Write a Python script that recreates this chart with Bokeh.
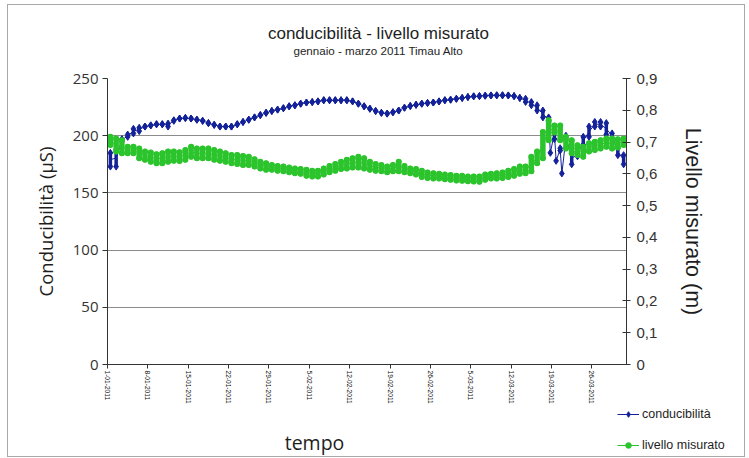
import pandas as pd
from bokeh.plotting import figure
from bokeh.layouts import column
from bokeh.models import (Range1d, LinearAxis, FixedTicker, Legend,
                          LegendItem, ColumnDataSource, Label)
from bokeh.embed import file_html
from bokeh.resources import INLINE

# ---------------- data ----------------
first_day = "2011-01-01"
n_days = 90

# conducibilità (µS): daily low / high readings
cond_lo = [173, 173, 195, 199, 202, 204, 208, 209, 210, 210,
           208, 213, 215, 215.5, 215, 214, 213, 211, 209.5, 208,
           208, 208, 210, 212, 214, 216, 218, 220, 221.6, 222.8,
           224, 225.7, 226.6, 228, 229, 229.4, 230, 231, 231, 231,
           231, 231, 230, 228, 225.7, 223.6, 221.6, 220, 219.3, 220.5,
           222, 224.5, 226, 227, 228, 228.6, 229, 230, 231, 231.5,
           232.3, 233, 233.8, 234.4, 234.6, 235, 235.2, 235.3, 235.3, 235.2,
           234.6, 233, 229.5, 226.6, 222, 216, 212, 197, 187, 196,
           175, 182, 192, 199, 208, 208, 201, 198, 183, 175]
cond_hi = [185, 188, 197, 201, 206, 207, 208, 209, 210, 210,
           210.6, 213.5, 215, 215.5, 215, 214, 213, 211, 209.5, 208,
           208, 208, 210, 212, 214, 216, 218, 220, 221.6, 222.8,
           224, 225.7, 226.6, 228, 229, 229.4, 230, 231, 231, 231,
           231, 231, 230, 228, 225.7, 223.6, 221.6, 220, 219.3, 220.5,
           222, 224.5, 226, 227, 228, 228.6, 229, 230, 231, 231.5,
           232.3, 233, 233.8, 234.4, 234.6, 235, 235.2, 235.3, 235.3, 235.2,
           234.6, 233, 232.3, 229.4, 226.6, 222, 216, 208, 189, 200,
           186, 184, 199, 208, 212, 212, 211, 202, 189, 183]
# isolated low conducibilità readings
cond_spike_time = ["2011-03-18 19:00", "2011-03-19 19:00", "2011-03-20 19:00"]
cond_spike_val = [185, 178, 167]

# livello misurato (m): daily low / high readings
liv_lo = [.691, .670, .665, .665, .665, .649, .644, .638, .633, .633,
          .638, .641, .640, .644, .654, .649, .649, .649, .644, .641,
          .638, .633, .631, .628, .628, .623, .617, .613, .613, .610,
          .608, .605, .602, .600, .594, .592, .592, .598, .605, .610,
          .615, .617, .620, .620, .617, .613, .610, .608, .605, .608,
          .608, .605, .602, .598, .590, .587, .585, .585, .583, .581,
          .579, .578, .577, .576, .575, .581, .585, .585, .587, .590,
          .594, .600, .602, .608, .633, .649, .706, .730, .706, .680,
          .665, .659, .654, .670, .675, .680, .685, .680, .683, .691]
liv_hi = [.717, .711, .706, .685, .685, .680, .670, .667, .662, .665,
          .670, .670, .668, .675, .685, .680, .680, .680, .675, .670,
          .665, .659, .659, .656, .654, .646, .638, .633, .628, .625,
          .623, .620, .617, .615, .613, .610, .610, .617, .625, .631,
          .638, .644, .649, .654, .649, .638, .631, .628, .623, .628,
          .638, .625, .617, .615, .610, .604, .602, .600, .598, .596,
          .594, .594, .592, .592, .592, .598, .600, .602, .604, .610,
          .615, .623, .623, .654, .670, .732, .769, .752, .752, .717,
          .706, .690, .685, .696, .701, .706, .711, .711, .709, .711]

tick_dates = ["2011-01-01", "2011-01-08", "2011-01-15", "2011-01-22",
              "2011-01-29", "2011-02-05", "2011-02-12", "2011-02-19",
              "2011-02-26", "2011-03-05", "2011-03-12", "2011-03-19",
              "2011-03-26"]
tick_labels = ["1-01-2011", "8-01-2011", "15-01-2011", "22-01-2011",
               "29-01-2011", "5-02-2011", "12-02-2011", "19-02-2011",
               "26-02-2011", "5-03-2011", "12-03-2011", "19-03-2011",
               "26-03-2011"]
cond_ticks = [0, 50, 100, 150, 200, 250]
liv_ticks = [0, 0.1, 0.2, 0.3, 0.4, 0.5, 0.6, 0.7, 0.8, 0.9]
liv_tick_labels = ["0", "0,1", "0,2", "0,3", "0,4", "0,5", "0,6", "0,7", "0,8", "0,9"]

title_text = "conducibilità - livello misurato"
subtitle_text = "gennaio - marzo 2011 Timau Alto"

# ---------------- sources ----------------
days = pd.date_range(first_day, periods=n_days, freq="D") + pd.Timedelta(hours=12)
cond_src = ColumnDataSource(dict(x=days, lo=cond_lo, hi=cond_hi))
liv_src = ColumnDataSource(dict(x=days, lo=liv_lo, hi=liv_hi))

cond_seq = pd.DataFrame(dict(x=list(days) + list(pd.to_datetime(cond_spike_time)),
                             y=[(a + b) / 2 for a, b in zip(cond_lo, cond_hi)] + cond_spike_val))
cond_seq = cond_seq.sort_values("x")
cond_line_src = ColumnDataSource(dict(x=cond_seq["x"], y=cond_seq["y"]))
spike_src = ColumnDataSource(dict(x=pd.to_datetime(cond_spike_time), y=cond_spike_val))
liv_line_src = ColumnDataSource(dict(x=days, y=[(a + b) / 2 for a, b in zip(liv_lo, liv_hi)]))

BLUE = "#14229a"
GREEN = "#2cc42c"
AX = "#333333"
TXT = "#1e1e1e"

W = 736
H_TOP = 63
H_MAIN = 338
H_BOT = 50


def blank_strip(h):
    f = figure(width=W, height=h, x_range=Range1d(0, W), y_range=Range1d(0, h),
               output_backend="svg", toolbar_location=None,
               x_axis_location=None, y_axis_location=None,
               min_border_left=0, min_border_right=0, min_border_top=0, min_border_bottom=0)
    f.frame_align = False
    f.outline_line_color = None
    f.grid.visible = False
    f.background_fill_color = "white"
    f.border_fill_color = "white"
    return f


# ---------------- top strip: titles ----------------
t = blank_strip(H_TOP)
t.add_layout(Label(x=370, y=35, text=title_text, text_align="center", text_baseline="middle",
                   text_font="Liberation Sans", text_font_size="17px", text_color=TXT))
t.add_layout(Label(x=370, y=18, text=subtitle_text, text_align="center", text_baseline="middle",
                   text_font="Liberation Sans", text_font_size="11.6px", text_color=TXT))

# ---------------- main plot ----------------
x_start = pd.Timestamp(first_day)
x_end = x_start + pd.Timedelta(days=n_days)

p = figure(width=W, height=H_MAIN, x_axis_type="datetime",
           x_range=Range1d(x_start, x_end), y_range=Range1d(0, 250),
           output_backend="svg", toolbar_location=None, title=None,
           min_border_left=99, min_border_right=118,
           min_border_top=10, min_border_bottom=40)
p.frame_align = False
p.extra_y_ranges = {"liv": Range1d(0, 0.9)}
p.outline_line_color = None
p.background_fill_color = "white"
p.border_fill_color = "white"

p.xgrid.visible = False
p.ygrid.ticker = FixedTicker(ticks=cond_ticks)
p.ygrid.grid_line_color = "#8c8c8c"
p.ygrid.grid_line_width = 1

tick_ms = [int(pd.Timestamp(d).value // 10**6) for d in tick_dates]
xa = p.xaxis[0]
xa.ticker = FixedTicker(ticks=tick_ms)
xa.major_label_overrides = {t_: l for t_, l in zip(tick_ms, tick_labels)}
xa.major_label_orientation = "vertical"
xa.major_label_text_font = "Liberation Sans"
xa.major_label_text_font_size = "6.6px"
xa.major_label_text_color = "#111111"
xa.major_label_standoff = 2
xa.major_tick_in = 0
xa.major_tick_out = 4
xa.minor_tick_out = 0
xa.minor_tick_in = 0
xa.axis_line_color = AX
xa.major_tick_line_color = AX

ya = p.yaxis[0]
ya.ticker = FixedTicker(ticks=cond_ticks)
ya.axis_label = "Conducibilità (µS)"
ya.axis_label_text_font = "Open Sans"
ya.axis_label_text_font_size = "18.5px"
ya.axis_label_text_font_style = "normal"
ya.axis_label_text_color = TXT
ya.axis_label_standoff = 12
ya.major_label_text_font = "Open Sans"
ya.major_label_text_font_size = "15px"
ya.major_label_text_color = "#333333"
ya.major_label_standoff = 4
ya.major_tick_in = 0
ya.major_tick_out = 5
ya.minor_tick_in = 0
ya.minor_tick_out = 0
ya.axis_line_color = AX
ya.major_tick_line_color = AX

ra = LinearAxis(y_range_name="liv", ticker=FixedTicker(ticks=liv_ticks))
ra.major_label_overrides = {t_: l for t_, l in zip(liv_ticks, liv_tick_labels)}
ra.axis_label = "Livello misurato (m)"
ra.axis_label_text_font = "Liberation Sans"
ra.axis_label_text_font_size = "21.5px"
ra.axis_label_text_font_style = "normal"
ra.axis_label_text_color = TXT
ra.axis_label_standoff = 21
ra.major_label_text_font = "Liberation Sans"
ra.major_label_text_font_size = "15px"
ra.major_label_text_color = "#333333"
ra.major_label_standoff = 6
ra.major_tick_in = 4
ra.major_tick_out = 4
ra.minor_tick_in = 0
ra.minor_tick_out = 0
ra.axis_line_color = AX
ra.major_tick_line_color = AX
p.add_layout(ra, "right")

# conducibilità series
p.line("x", "y", source=cond_line_src, line_color=BLUE, line_width=1)
p.segment(x0="x", y0="lo", x1="x", y1="hi", source=cond_src,
          line_color=BLUE, line_width=3.5)
p.scatter("x", "hi", source=cond_src, marker="diamond", size=7,
          fill_color=BLUE, line_color=BLUE)
p.scatter("x", "lo", source=cond_src, marker="diamond", size=7,
          fill_color=BLUE, line_color=BLUE)
p.scatter("x", "y", source=spike_src, marker="diamond", size=7,
          fill_color=BLUE, line_color=BLUE)

# livello series
p.line("x", "y", source=liv_line_src, line_color=GREEN, line_width=1,
       y_range_name="liv")
p.segment(x0="x", y0="lo", x1="x", y1="hi", source=liv_src,
          line_color=GREEN, line_width=5.5, line_cap="round", y_range_name="liv")
p.scatter("x", "hi", source=liv_src, marker="circle", size=6,
          fill_color=GREEN, line_color=None, y_range_name="liv")
p.scatter("x", "lo", source=liv_src, marker="circle", size=6,
          fill_color=GREEN, line_color=None, y_range_name="liv")

# ---------------- bottom strip: x-axis title and legend ----------------
q = blank_strip(H_BOT)
q.add_layout(Label(x=306, y=14, text="tempo", text_align="center", text_baseline="middle",
                   text_font="Open Sans", text_font_size="19.5px", text_color=TXT))

nan = float("nan")
lc_line = q.line(x=[nan], y=[nan], line_color=BLUE, line_width=1)
lc_mk = q.scatter(x=[nan], y=[nan], marker="diamond", size=7, fill_color=BLUE, line_color=BLUE)
ll_line = q.line(x=[nan], y=[nan], line_color=GREEN, line_width=1)
ll_mk = q.scatter(x=[nan], y=[nan], marker="circle", size=6, fill_color=GREEN, line_color=GREEN)

legend = Legend(items=[LegendItem(label="conducibilità", renderers=[lc_line, lc_mk], index=0),
                       LegendItem(label="livello misurato", renderers=[ll_line, ll_mk], index=0)],
                location=(609, 4), orientation="vertical",
                border_line_color=None, background_fill_alpha=0,
                padding=0, margin=0, spacing=16, glyph_width=22, glyph_height=14,
                label_height=15, label_standoff=3,
                label_text_font="Liberation Sans", label_text_font_size="12.5px",
                label_text_color=TXT)
q.add_layout(legend)

layout = column(t, p, q, spacing=0, margin=(4, 0, 0, 7),
                styles={"border": "1px solid #a8a8a8"})

open("out.html", "w").write(file_html(layout, INLINE))
